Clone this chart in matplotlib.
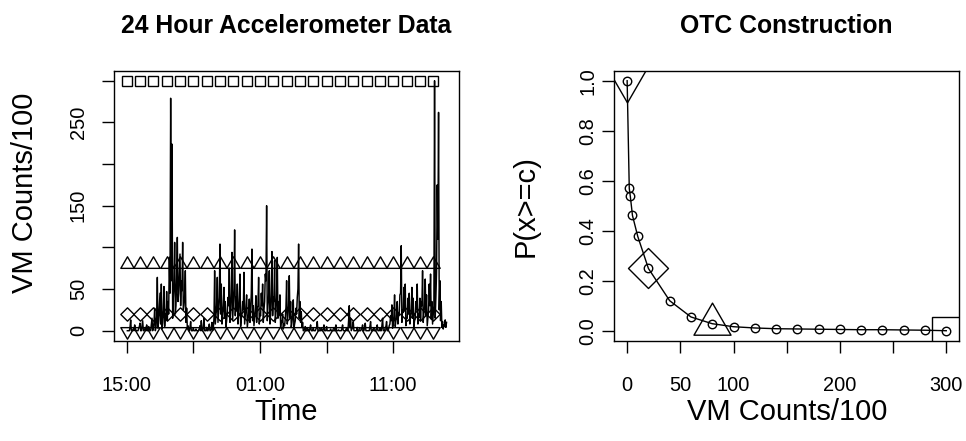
import numpy as np
import matplotlib
matplotlib.use('Agg')
import matplotlib.pyplot as plt
from matplotlib.path import Path

plt.rcParams['font.family'] = ['Liberation Sans', 'DejaVu Sans']

# 24 hour accelerometer series, one value every 3 minutes starting 15:00
# (one row per hour)
vm_counts = [
    0, 0, 0, 0, 4, 13, 0, 0, 0, 2, 0, 7, 3, 0, 0, 0, 0, 3, 5, 9,
    0, 0, 6, 12, 0, 0, 2, 4, 0, 7, 0, 0, 5, 2, 0, 0, 8, 15, 0, 3,
    10, 27, 0, 4, 18, 64, 3, 12, 30, 45, 8, 56, 2, 9, 25, 53, 5, 20, 14, 47,
    12, 35, 20, 88, 45, 279, 60, 224, 15, 40, 55, 106, 20, 30, 62, 112, 35, 45, 70, 92,
    30, 60, 48, 106, 25, 30, 40, 72, 10, 27, 3, 6, 0, 0, 4, 11, 0, 0, 0, 3,
    0, 0, 0, 2, 0, 0, 0, 0, 2, 6, 0, 12, 0, 0, 4, 15, 0, 0, 0, 4,
    0, 0, 3, 8, 0, 0, 2, 10, 0, 3, 15, 72, 8, 20, 30, 64, 10, 25, 40, 104,
    20, 56, 8, 18, 30, 52, 15, 35, 5, 12, 22, 40, 30, 75, 10, 22, 45, 94, 12, 30,
    50, 121, 18, 40, 25, 56, 8, 20, 40, 68, 5, 15, 20, 35, 25, 70, 8, 18, 28, 43,
    4, 12, 20, 38, 10, 25, 45, 98, 12, 30, 6, 15, 25, 42, 10, 28, 30, 64, 8, 20,
    18, 45, 30, 56, 10, 25, 35, 68, 60, 150, 12, 30, 40, 72, 8, 20, 45, 95, 18, 40,
    35, 84, 10, 22, 40, 88, 15, 35, 20, 43, 4, 12, 10, 20, 2, 8, 6, 15, 28, 60,
    8, 18, 30, 66, 15, 35, 4, 10, 18, 37, 2, 8, 12, 27, 20, 40, 50, 104, 15, 35,
    10, 23, 4, 10, 0, 0, 2, 5, 0, 0, 0, 2, 0, 0, 3, 7, 0, 0, 0, 3,
    0, 0, 0, 2, 4, 11, 0, 0, 0, 0, 0, 3, 0, 0, 2, 7, 0, 0, 0, 5,
    0, 0, 0, 0, 0, 2, 0, 0, 0, 0, 0, 0, 3, 7, 0, 0, 0, 1, 0, 0,
    0, 0, 3, 7, 0, 0, 0, 0, 0, 3, 0, 0, 12, 30, 5, 15, 0, 2, 4, 11,
    0, 0, 0, 0, 0, 4, 0, 0, 0, 0, 0, 2, 3, 7, 0, 0, 4, 9, 0, 0,
    0, 0, 0, 0, 5, 11, 0, 0, 0, 2, 0, 0, 0, 0, 3, 7, 0, 0, 0, 3,
    0, 0, 6, 15, 0, 0, 0, 4, 5, 11, 0, 0, 2, 6, 8, 18, 12, 31, 3, 8,
    18, 43, 5, 12, 15, 35, 8, 20, 20, 43, 45, 102, 10, 25, 22, 52, 25, 56, 6, 15,
    15, 39, 20, 45, 8, 18, 22, 52, 15, 39, 5, 12, 14, 35, 25, 56, 8, 20, 16, 39,
    12, 35, 30, 72, 10, 22, 28, 62, 18, 43, 6, 15, 24, 56, 30, 68, 14, 35, 8, 20,
    30, 300, 15, 40, 70, 175, 110, 262, 25, 60, 12, 35, 4, 11, 2, 7, 5, 13, 4, 10,
]
sample_hours = np.arange(1, len(vm_counts) + 1) / 20.0
marker_hours = np.arange(0, 24)

# OTC curve: P(x >= c)
otc_cut = [0, 2, 3, 5, 10, 20, 40, 60, 80, 100, 120, 140, 160, 180, 200,
           220, 240, 260, 280, 300]
otc_prob = [1.0, 0.569, 0.537, 0.461, 0.377, 0.249, 0.12, 0.055, 0.028,
            0.016, 0.011, 0.008, 0.007, 0.006, 0.005, 0.004, 0.004, 0.003,
            0.002, 0.0]

cut_points = [0, 20, 80, 300]

time_ticks = [0, 5, 10, 15, 20]
time_labels = ['15:00', '', '01:00', '', '11:00']

# R style plotting symbols (pch 6, 5, 2, 0)
tri_up = Path([(0, 1.555), (1.347, -0.778), (-1.347, -0.778), (0, 1.555)],
              [Path.MOVETO, Path.LINETO, Path.LINETO, Path.CLOSEPOLY])
tri_down = Path([(0, -1.555), (1.347, 0.778), (-1.347, 0.778), (0, -1.555)],
                [Path.MOVETO, Path.LINETO, Path.LINETO, Path.CLOSEPOLY])
diamond = Path([(0, 1), (1, 0), (0, -1), (-1, 0), (0, 1)],
               [Path.MOVETO, Path.LINETO, Path.LINETO, Path.LINETO, Path.CLOSEPOLY])
symbols = [tri_down, diamond, tri_up, 's']
small_sizes = [11.1, 9.6, 11.1, 7.2]
big_sizes = [30.8, 28.8, 30.8, 20.2]

tick_fs = 14.4
lab_fs = 21
title_fs = 17.8
lw = 1.0

fig = plt.figure(figsize=(9.66, 4.41), dpi=100)
ax1 = fig.add_axes([0.1183, 0.2274, 0.3568, 0.6122])
ax2 = fig.add_axes([0.636, 0.2274, 0.3568, 0.6122])

# left panel
ax1.plot(sample_hours, vm_counts, color='black', lw=1.05)
for cp, sym, ms in zip(cut_points, symbols, small_sizes):
    ax1.plot(marker_hours, [cp] * len(marker_hours), linestyle='none',
             marker=sym, ms=ms, mfc='none', mec='black', mew=lw)
ax1.set_xlim(-0.93, 24.93)
ax1.set_ylim(-12, 312)
ax1.set_xticks(time_ticks)
ax1.set_xticklabels(time_labels)
ax1.set_yticks([0, 50, 100, 150, 200, 250, 300])
ax1.set_yticklabels(['0', '50', '', '150', '', '250', ''])
ax1.set_title('24 Hour Accelerometer Data', fontsize=title_fs,
              fontweight='bold', y=1.1415, pad=0)
ax1.set_xlabel('Time', fontsize=lab_fs)
ax1.set_ylabel('VM Counts/100', fontsize=lab_fs, va='center')
ax1.tick_params(axis='y', pad=10.4)

# right panel
ax2.plot(otc_cut, otc_prob, color='black', lw=lw, marker='o', ms=6.1,
         mfc='none', mec='black', mew=lw)
for cp, sym, ms in zip(cut_points, symbols, big_sizes):
    ax2.plot([cp], [otc_prob[otc_cut.index(cp)]], linestyle='none',
             marker=sym, ms=ms, mfc='none', mec='black', mew=lw)
ax2.set_xlim(-12, 312)
ax2.set_ylim(-0.04, 1.04)
ax2.set_xticks([0, 50, 100, 150, 200, 250, 300])
ax2.set_xticklabels(['0', '50', '100', '', '200', '', '300'])
ax2.set_yticks([0, 0.2, 0.4, 0.6, 0.8, 1.0])
ax2.set_yticklabels(['0.0', '0.2', '0.4', '0.6', '0.8', '1.0'])
ax2.set_title('OTC Construction', fontsize=title_fs, fontweight='bold',
              y=1.1415, pad=0)
ax2.set_xlabel('VM Counts/100', fontsize=lab_fs)
ax2.set_ylabel('P(x>=c)', fontsize=lab_fs, va='center')
ax2.tick_params(axis='y', pad=3.6)

for ax in (ax1, ax2):
    for s in ax.spines.values():
        s.set_linewidth(lw)
    ax.tick_params(direction='out', length=8.7, width=lw, labelsize=tick_fs)
    ax.tick_params(axis='x', pad=16.8)
    ax.tick_params(axis='y', labelrotation=90)
    for t in ax.get_yticklabels():
        t.set_va('center')
    ax.xaxis.set_label_coords(0.5, -0.264)
    ax.xaxis.label.set_va('center')

ax1.yaxis.set_label_coords(-0.258, 0.549)
ax2.yaxis.set_label_coords(-0.258, 0.5)

fig.savefig('out.png', dpi=100)
